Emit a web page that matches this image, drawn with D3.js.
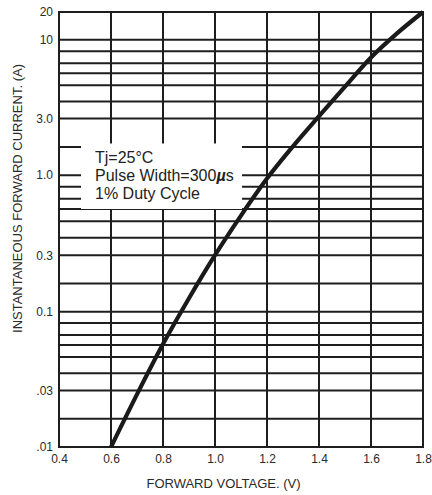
<!DOCTYPE html>
<html>
<head>
<meta charset="utf-8">
<script src="https://cdn.jsdelivr.net/npm/d3@7"></script>
<style>
  html, body { margin: 0; padding: 0; background: #fff; }
  svg { display: block; font-family: "Liberation Sans", Arial, sans-serif; }
  .tick text { fill: #2a2a2a; font-size: 12px; }
  .grid line { stroke: #1e1e1e; stroke-width: 2; }
</style>
</head>
<body>
<div id="chart"></div>
<script>
// forward characteristic
const voltage = [0.6, 0.7, 0.8, 0.9, 1.0, 1.1, 1.2, 1.3, 1.4, 1.5, 1.6, 1.7, 1.8];
const current = [0.01, 0.0278, 0.061, 0.130, 0.3, 0.544, 0.949, 1.75, 3.11, 4.89, 7.64, 11.75, 20];

const voltageTicks = [0.4, 0.6, 0.8, 1.0, 1.2, 1.4, 1.6, 1.8];
const currentTicks = [0.01, 0.03, 0.1, 0.3, 1, 3, 10, 20];
const currentTickLabels = ['.01', '.03', '0.1', '0.3', '1.0', '3.0', '10', '20'];
// unlabelled horizontal rules inside each decade (as drawn)
const decades = [0.01, 0.1, 1];
const decadeRules = [1.73, 3.9, 5, 6, 7, 8.4];

const notes = ['Tj=25\u00B0C', 'Pulse Width=300', '1% Duty Cycle'];

const width = 432;
const height = 495;
const margin = { top: 12, right: 9, bottom: 48, left: 59 };
const plot = {
    left: margin.left,
    right: width - margin.right,
    top: margin.top,
    bottom: height - margin.bottom,
    height: height - margin.top - margin.bottom
};

// the printed log axis is not evenly spaced: where each labelled tick sits, as a share of the plot height
const yTickStops = [0, 0.13, 0.311, 0.441, 0.625, 0.755, 0.936, 1];

const svg = d3.select('#chart')
    .append('svg')
    .attr('width', width)
    .attr('height', height);

const x = d3.scaleLinear()
    .domain([0.4, 1.8])
    .range([plot.left, plot.right]);

const y = d3.scaleLog()
    .domain(currentTicks)
    .range(yTickStops.map(f => plot.bottom - f * plot.height));

const ruleValues = currentTicks.concat(decades.flatMap(d => decadeRules.map(m => d * m)));

// horizontal rules
svg.append('g')
    .attr('class', 'grid')
    .selectAll('line')
    .data(ruleValues)
    .join('line')
    .attr('x1', plot.left)
    .attr('x2', plot.right)
    .attr('y1', d => y(d))
    .attr('y2', d => y(d));

// vertical rules
svg.append('g')
    .attr('class', 'grid')
    .selectAll('line')
    .data(voltageTicks)
    .join('line')
    .attr('x1', d => x(d))
    .attr('x2', d => x(d))
    .attr('y1', plot.top)
    .attr('y2', plot.bottom);

// frame
svg.append('rect')
    .attr('x', plot.left)
    .attr('y', plot.top)
    .attr('width', plot.right - plot.left)
    .attr('height', plot.bottom - plot.top)
    .attr('fill', 'none')
    .attr('stroke', '#1e1e1e')
    .attr('stroke-width', 2);

// test-condition note, blanked over the grid
const note = svg.append('g');
note.append('rect')
    .attr('x', plot.left + 22)
    .attr('y', 143.5)
    .attr('width', 161)
    .attr('height', 65.5)
    .attr('fill', '#fff');

const noteText = note.append('text')
    .attr('x', 95)
    .attr('y', 163.3)
    .attr('fill', '#222')
    .style('font-size', '16px');

notes.forEach((t, i) => {
    noteText.append('tspan')
        .attr('x', 95)
        .attr('dy', i === 0 ? 0 : 17.6)
        .text(t);
    if (i === 1) {
        noteText.append('tspan').style('font-weight', 'bold').style('font-style', 'italic').text('\u00B5');
        noteText.append('tspan').text('s');
    }
});

// curve
const line = d3.line()
    .x((d, i) => x(voltage[i]))
    .y(d => y(d))
    .curve(d3.curveMonotoneX);

svg.append('path')
    .datum(current)
    .attr('d', line)
    .attr('fill', 'none')
    .attr('stroke', '#1a1a1a')
    .attr('stroke-width', 4.2);

// axes
svg.append('g')
    .attr('transform', `translate(0,${plot.bottom})`)
    .call(d3.axisBottom(x)
        .tickValues(voltageTicks)
        .tickFormat(d3.format('.1f'))
        .tickSize(0)
        .tickPadding(7.5))
    .call(g => g.select('.domain').remove());

svg.append('g')
    .attr('transform', `translate(${plot.left},0)`)
    .call(d3.axisLeft(y)
        .tickValues(currentTicks)
        .tickFormat((d, i) => currentTickLabels[i])
        .tickSize(0)
        .tickPadding(6))
    .call(g => g.select('.domain').remove());

// axis titles
svg.append('text')
    .attr('x', 223.5)
    .attr('y', 488)
    .attr('text-anchor', 'middle')
    .attr('fill', '#2a2a2a')
    .style('font-size', '13px')
    .text('FORWARD VOLTAGE. (V)');

svg.append('text')
    .attr('transform', `translate(22,198.5) rotate(-90)`)
    .attr('text-anchor', 'middle')
    .attr('fill', '#2a2a2a')
    .style('font-size', '13px')
    .text('INSTANTANEOUS FORWARD CURRENT. (A)');
</script>
</body>
</html>
